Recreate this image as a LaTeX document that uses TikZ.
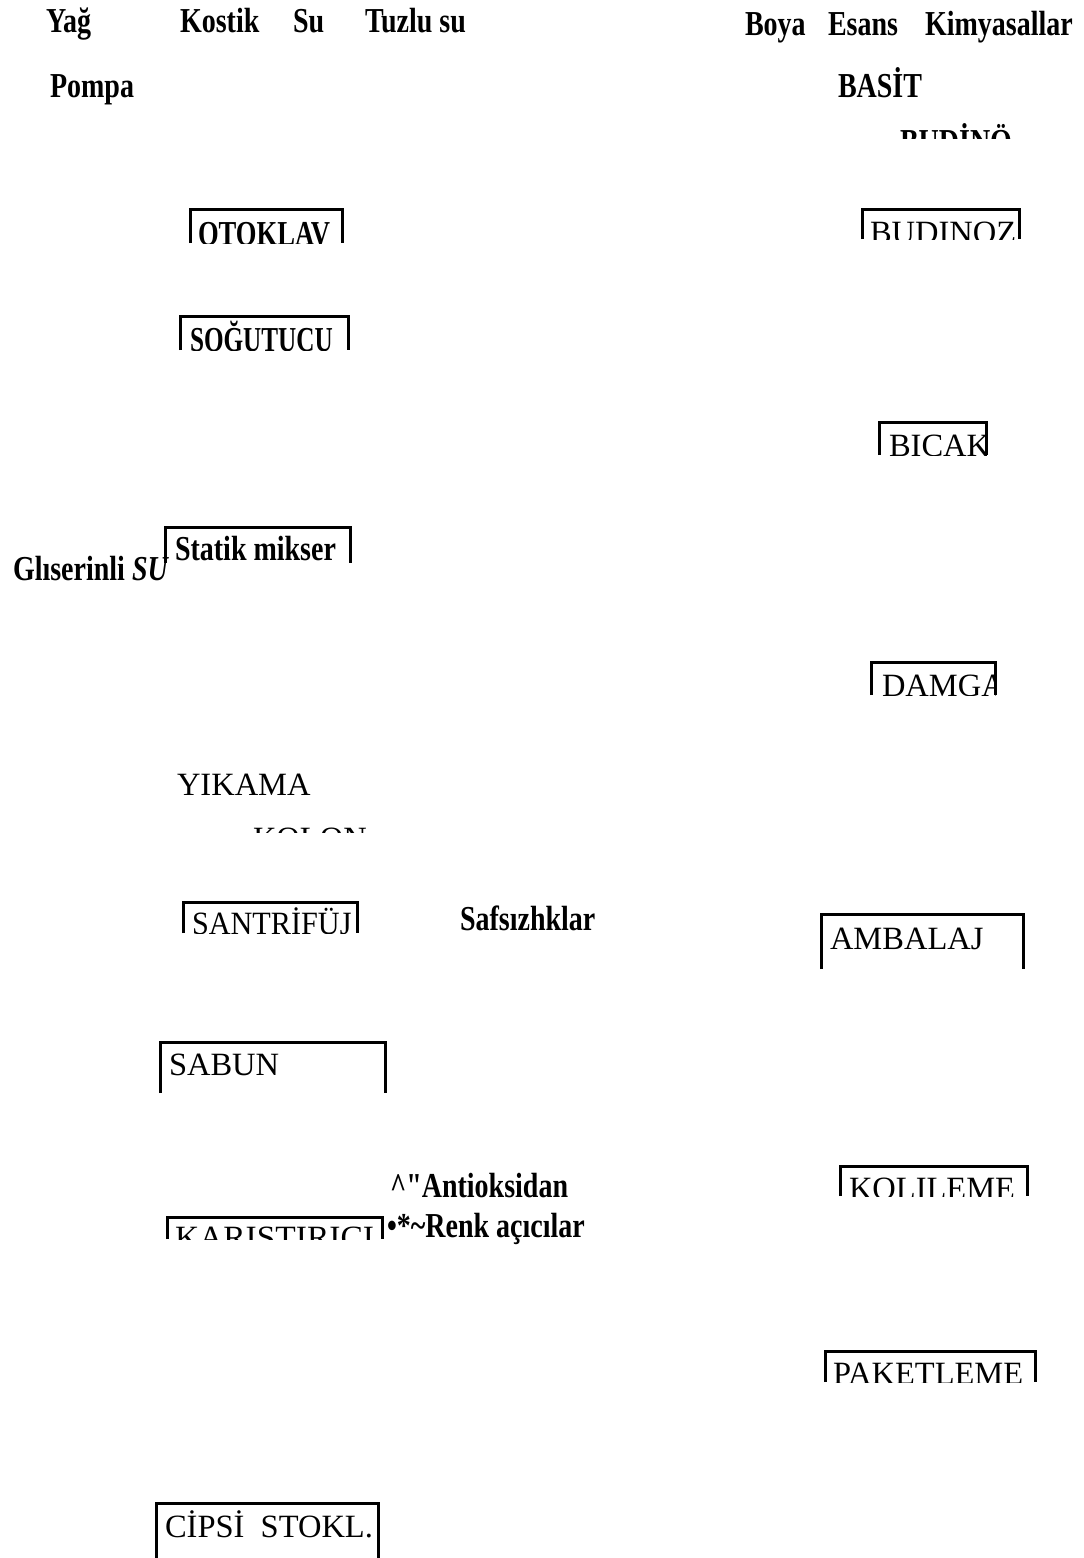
\documentclass[tikz,border=0pt]{standalone}
\usepackage{fontspec}
\setmainfont{Liberation Serif}
\newfontfamily\bfcond[FakeStretch=0.8]{Liberation Serif}
\tikzset{
  lbl/.style={inner sep=0pt, outer sep=0pt, anchor=base west},
  reg/.style={lbl, font=\fontsize{32.5}{33}\selectfont},
  bld/.style={lbl, font=\bfcond\bfseries\fontsize{35}{35}\selectfont},
  cutframe/.style={line width=3pt, line cap=butt, line join=miter}
}
\begin{document}
\begin{tikzpicture}[x=1pt,y=-1pt]
\useasboundingbox (0,0) rectangle (1084,1558);
\fill[white] (0,0) rectangle (1084,1558);

% headings
\node[bld] (yag) at (46,32) {Yağ};
\node[bld] (kostik) at (180,32) {Kostik};
\node[bld] (su) at (293,32) {Su};
\node[bld] (tuzlu) at (365,32) {Tuzlu su};
\node[bld] (boya) at (745,35) {Boya};
\node[bld] (esans) at (828,35) {Esans};
\node[bld] (kimya) at (925,35) {Kimyasallar};
\node[bld] (pompa) at (50,97) {Pompa};
\node[bld] (basit) at (838,97) {BASİT};
\begin{scope}
  \clip (880,100) rectangle (1030,138);
  \node[bld] (budino) at (900,153) {BUDİNÖ};
\end{scope}

% OTOKLAV
\draw[cutframe] (190,243) -- (190,209) -- (342,209) -- (342,243);
\begin{scope}\clip (190,209) rectangle (342,243);
  \node[bld] (otoklav) at (198,245) {\scalebox{0.95}[1]{OTOKLAV}};
\end{scope}

% BUDINOZ
\draw[cutframe] (862,239) -- (862,209) -- (1019,209) -- (1019,239);
\begin{scope}\clip (862,209) rectangle (1019,239);
  \node[reg] (budinoz) at (870,243) {BUDINOZ};
\end{scope}

% SOGUTUCU
\draw[cutframe] (180,350) -- (180,316) -- (348,316) -- (348,350);
\begin{scope}\clip (180,316) rectangle (348,350);
  \node[bld] (sogutucu) at (190,351) {\scalebox{0.9}[1]{SOĞUTUCU}};
\end{scope}

% BICAK
\draw[cutframe] (879,455) -- (879,422) -- (986,422) -- (986,455);
\begin{scope}\clip (879,422) rectangle (986,455);
  \node[reg] (bicak) at (889,456) {BICAK};
\end{scope}

% Statik mikser
\draw[cutframe] (165,563) -- (165,527) -- (350,527) -- (350,563);
\begin{scope}\clip (165,527) rectangle (350,563);
  \node[bld] (statik) at (175,560) {Statik mikser};
\end{scope}
\node[bld] (gliserin) at (13,580) {Glıserinli \textit{SU}};

% DAMGA
\draw[cutframe] (871,695) -- (871,662) -- (995,662) -- (995,695);
\begin{scope}\clip (871,662) rectangle (995,695);
  \node[reg] (damga) at (882,696) {DAMGA};
\end{scope}

% YIKAMA KOLON
\node[reg] (yikama) at (177,795) {YIKAMA};
\begin{scope}\clip (240,800) rectangle (380,832);
  \node[reg] (kolon) at (253,849) {KOLON};
\end{scope}

% SANTRIFUJ
\draw[cutframe] (183,933) -- (183,902) -- (357,902) -- (357,933);
\begin{scope}\clip (183,902) rectangle (357,933);
  \node[reg] (santrifuj) at (192,934) {\scalebox{0.93}[1]{SANTRİFÜJ}};
\end{scope}
\node[bld] (safsiz) at (460,930) {Safsızhklar};

% AMBALAJ
\draw[cutframe] (821,969) -- (821,914) -- (1023,914) -- (1023,969);
\node[reg] (ambalaj) at (830,949) {AMBALAJ};

% SABUN
\draw[cutframe] (160,1093) -- (160,1042) -- (385,1042) -- (385,1093);
\node[reg] (sabun) at (169,1075) {SABUN};

% KOLILEME
\draw[cutframe] (840,1196) -- (840,1166) -- (1027,1166) -- (1027,1196);
\begin{scope}\clip (840,1166) rectangle (1027,1196);
  \node[reg] (kolileme) at (849,1199) {KOLILEME};
\end{scope}

% Antioksidan / KARISTIRICI / Renk acicilar
\node[bld] (antiok) at (390,1197) {\textasciicircum"Antioksidan};
\draw[cutframe] (167,1239) -- (167,1217) -- (382,1217) -- (382,1239);
\begin{scope}\clip (167,1217) rectangle (382,1239);
  \node[reg] (karis) at (175,1248) {\scalebox{1.03}[1]{KARISTIRICI}};
\end{scope}
\node[bld] (renk) at (387,1237) {•*\textasciitilde Renk açıcılar};

% PAKETLEME
\draw[cutframe] (825,1382) -- (825,1351) -- (1035,1351) -- (1035,1382);
\begin{scope}\clip (825,1351) rectangle (1035,1382);
  \node[reg] (paket) at (833,1384) {PAKETLEME};
\end{scope}

% CIPSI STOKL.
\draw[cutframe] (156,1558) -- (156,1503) -- (378,1503) -- (378,1558);
\node[reg] (cipsi) at (165,1537) {CİPSİ\ \ STOKL.};
\end{tikzpicture}
\end{document}
